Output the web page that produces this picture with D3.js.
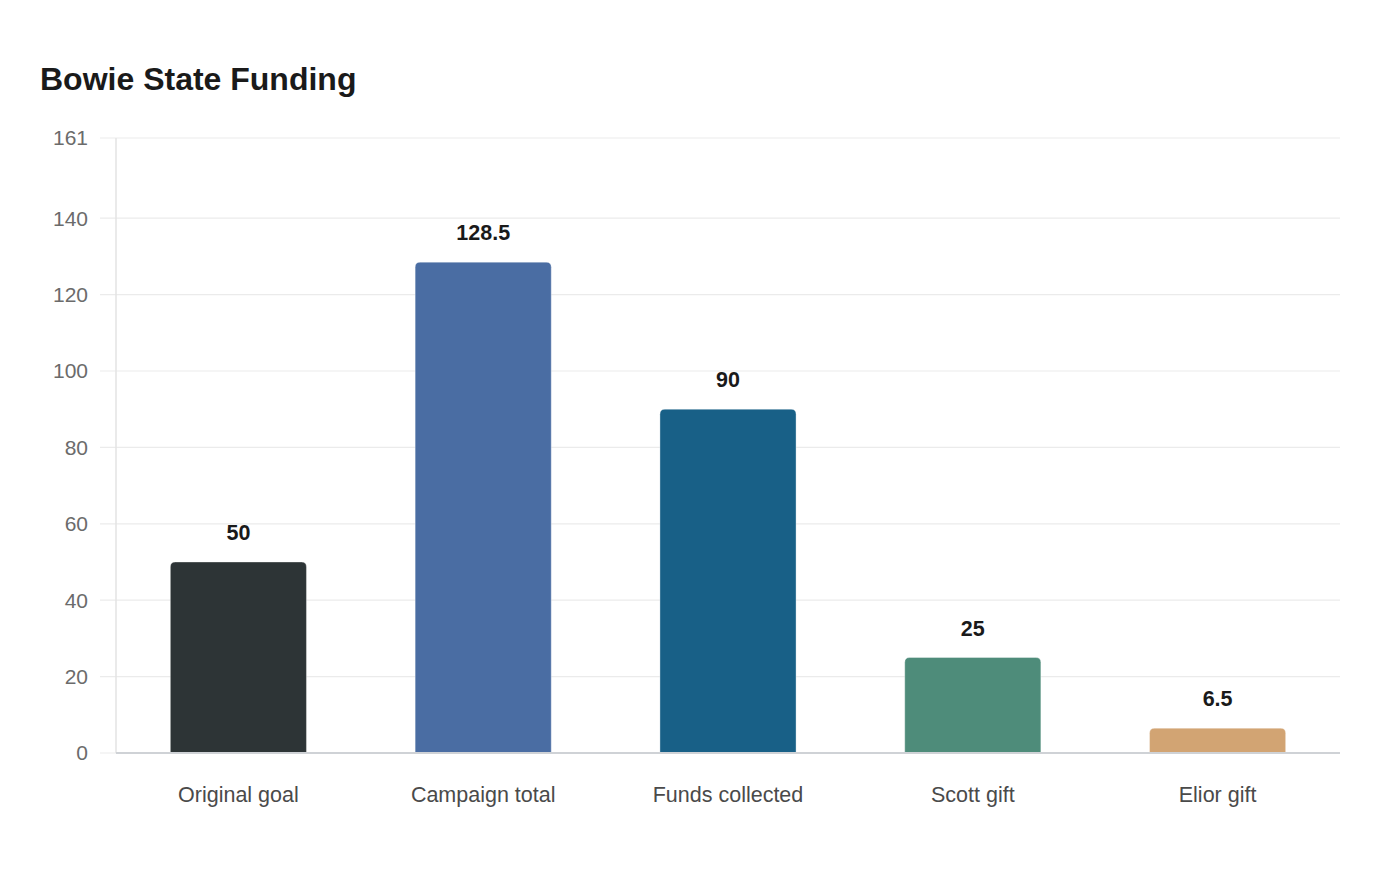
<!DOCTYPE html>
<html><head><meta charset="utf-8">
<script src="https://cdn.jsdelivr.net/npm/d3@7"></script>
<style>body{margin:0;background:#fff;font-family:"Liberation Sans",Arial,sans-serif;}</style>
</head><body><svg id="c" width="1400" height="880"></svg>
<script>
const categories = ["Original goal","Campaign total","Funds collected","Scott gift","Elior gift"];
const values = [50,128.5,90,25,6.5];
const colors = ["#2d3436","#4a6da3","#186087","#4e8c7a","#d2a473"];
const yTicks = [0,20,40,60,80,100,120,140,161];
const valueLabels = ["50","128.5","90","25","6.5"];

const svg = d3.select("#c");
const m = {l:116, r:1340, t:138, b:753};
const x = d3.scaleBand().domain(categories).range([m.l,m.r]).paddingInner(0.444).paddingOuter(0.222);
const y = d3.scaleLinear().domain([0,161]).range([m.b,m.t]);

svg.append("text").attr("x",40).attr("y",90).text("Bowie State Funding")
  .attr("font-size",32).attr("font-weight","bold").attr("fill","#1a1a1a");

// grid
svg.append("g").selectAll("line").data(yTicks).join("line")
  .attr("x1",100).attr("x2",m.r).attr("y1",d=>y(d)).attr("y2",d=>y(d))
  .attr("stroke","#ebebeb").attr("stroke-width",1.2);
svg.append("g").selectAll("text").data(yTicks).join("text")
  .attr("x",88).attr("y",d=>y(d)).attr("dy","0.35em").attr("text-anchor","end")
  .attr("font-size",21).attr("fill","#6b6b6b").text(d=>d);
svg.append("line").attr("x1",m.l).attr("x2",m.l).attr("y1",m.t).attr("y2",m.b)
  .attr("stroke","#e3e3e3").attr("stroke-width",1.5);

// bars
const r = 5;
svg.append("g").selectAll("path").data(values).join("path")
  .attr("d",(d,i)=>{
    const x0=x(categories[i]), w=x.bandwidth(), y0=y(d), yb=y(0);
    return `M${x0},${yb}V${y0+r}Q${x0},${y0} ${x0+r},${y0}H${x0+w-r}Q${x0+w},${y0} ${x0+w},${y0+r}V${yb}Z`;
  })
  .attr("fill",(d,i)=>colors[i]).attr("stroke","rgba(255,255,255,0.35)").attr("stroke-width",1);

svg.append("line").attr("x1",m.l).attr("x2",m.r).attr("y1",m.b).attr("y2",m.b)
  .attr("stroke","#cfd2d6").attr("stroke-width",2);

svg.append("g").selectAll("text").data(values).join("text")
  .attr("x",(d,i)=>x(categories[i])+x.bandwidth()/2).attr("y",d=>y(d)-22)
  .attr("text-anchor","middle").attr("font-size",21.5).attr("font-weight","bold").attr("fill","#1a1a1a")
  .text((d,i)=>valueLabels[i]);

svg.append("g").selectAll("text").data(categories).join("text")
  .attr("x",d=>x(d)+x.bandwidth()/2).attr("y",802)
  .attr("text-anchor","middle").attr("font-size",21.5).attr("fill","#4a4a4a").text(d=>d);
</script></body></html>
